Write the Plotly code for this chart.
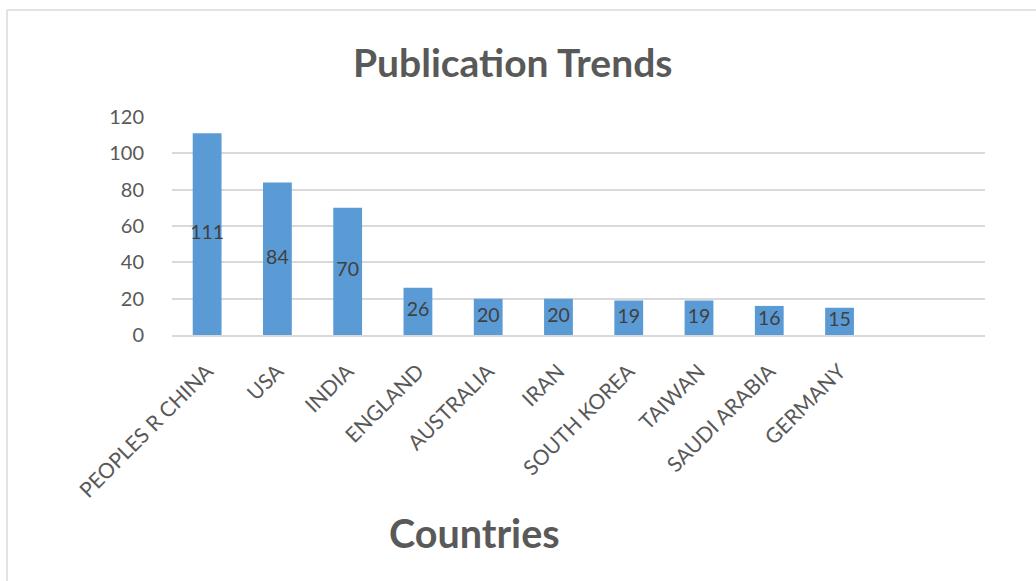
import plotly.graph_objects as go

# Publication counts per country
countries = ["PEOPLES R CHINA", "USA", "INDIA", "ENGLAND", "AUSTRALIA",
             "IRAN", "SOUTH KOREA", "TAIWAN", "SAUDI ARABIA", "GERMANY"]
publications = [111, 84, 70, 26, 20, 20, 19, 19, 16, 15]
y_ticks = [0, 20, 40, 60, 80, 100, 120]

W, H = 1036, 581
L, R, T, B = 172, 51, 117, 246
plot_w = W - L - R
plot_h = H - T - B

def px_x(x):
    return (x - L) / plot_w

def px_y(y):
    return (H - B - y) / plot_h

TXT = "#595959"
BAR = "#5B9BD5"
GRID = "#D9D9D9"
FONT = "Lato"

fig = go.Figure()
fig.add_trace(go.Bar(
    x=countries, y=publications, marker_color=BAR, marker_line_width=0,
    hoverinfo="x+y", showlegend=False,
))
# value labels centred inside each bar
fig.add_trace(go.Scatter(
    x=countries, y=[v / 2 for v in publications],
    text=[str(v) for v in publications], mode="text",
    textposition="middle center",
    textfont=dict(family=FONT, size=19.5, color="#404040"),
    hoverinfo="skip", showlegend=False,
))

fig.update_layout(
    width=W, height=H,
    margin=dict(l=L, r=R, t=T, b=B, pad=0),
    paper_bgcolor="white", plot_bgcolor="white",
    bargap=0.59,
    font=dict(family=FONT, color=TXT),
    xaxis=dict(
        type="category", categoryorder="array", categoryarray=countries,
        range=[-0.5, 11.07], showgrid=False, showline=True,
        linecolor=GRID, linewidth=1.5, ticks="", tickangle=-45,
        tickfont=dict(family=FONT, size=21, color=TXT),
        ticklabelstandoff=14, fixedrange=True,
    ),
    yaxis=dict(
        range=[0, 120], tickvals=y_ticks, showgrid=True, gridcolor=GRID,
        gridwidth=1.5, zeroline=False, showline=False, ticks="",
        tickfont=dict(family=FONT, size=20, color=TXT),
        ticklabelstandoff=27, fixedrange=True,
    ),
    annotations=[
        dict(text="<b>Publication Trends</b>", xref="paper", yref="paper",
             x=px_x(512), y=px_y(62), xanchor="center", yanchor="middle",
             showarrow=False, font=dict(family=FONT, size=39, color=TXT)),
        dict(text="<b>Countries</b>", xref="paper", yref="paper",
             x=px_x(474), y=px_y(532), xanchor="center", yanchor="middle",
             showarrow=False, font=dict(family=FONT, size=39.5, color=TXT)),
    ],
    shapes=[
        dict(type="line", xref="paper", yref="paper", x0=px_x(7), x1=px_x(7),
             y0=px_y(10), y1=px_y(600), line=dict(color=GRID, width=1.5)),
        dict(type="line", xref="paper", yref="paper", x0=px_x(7), x1=px_x(1050),
             y0=px_y(10), y1=px_y(10), line=dict(color=GRID, width=1.5)),
    ],
)

fig.write_html("out.html", config={"displayModeBar": False})
